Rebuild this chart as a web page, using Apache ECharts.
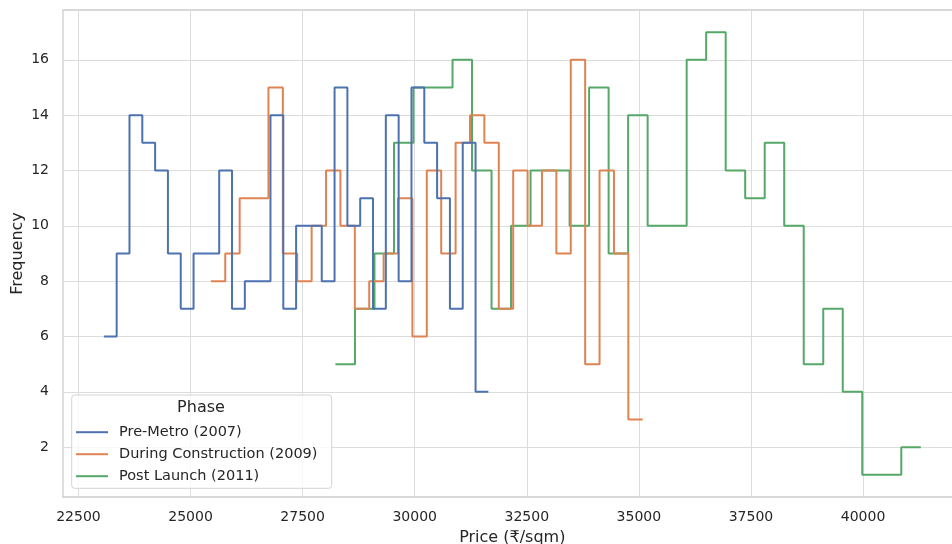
<!DOCTYPE html>
<html>
<head>
<meta charset="utf-8">
<script src="https://cdn.jsdelivr.net/npm/echarts@6/dist/echarts.min.js"></script>
<style>
  html, body { margin: 0; padding: 0; background: #fff; }
  #chart { width: 952px; height: 544px; }
</style>
</head>
<body>
<div id="chart"></div>
<script>
// price bins per phase: first bin edge, bin width (₹/sqm), counts per bin
const phaseNames = ['Pre-Metro (2007)', 'During Construction (2009)', 'Post Launch (2011)'];
const phaseColors = ['#4c72b0', '#dd8452', '#55a868'];

const preMetroStart = 23066;
const preMetroWidth = 285.9;
const preMetroCounts = [6, 9, 14, 13, 12, 9, 7, 9, 9, 12, 7, 8, 8, 14, 7, 10, 10, 8, 15, 10, 11, 7, 14, 8, 15, 13, 11, 7, 13, 4];

const constructionStart = 25453;
const constructionWidth = 321.1;
const constructionCounts = [8, 9, 11, 11, 15, 9, 8, 10, 12, 10, 7, 8, 9, 11, 6, 12, 9, 13, 14, 13, 7, 12, 10, 12, 9, 16, 5, 12, 9, 3];

const postLaunchStart = 28232;
const postLaunchWidth = 435.2;
const postLaunchCounts = [5, 7, 9, 13, 15, 15, 16, 12, 7, 10, 12, 12, 10, 15, 9, 14, 10, 10, 16, 17, 12, 11, 13, 10, 5, 7, 4, 1, 1, 2];

const xTicks = [22500, 25000, 27500, 30000, 32500, 35000, 37500, 40000];
const yTicks = [2, 4, 6, 8, 10, 12, 14, 16];

const font = 'DejaVu Sans';
const textColor = '#262626';

// step outline: each bin's left edge with its count, plus the closing right edge
function stepPoints(start, width, counts) {
  let pts = counts.map((c, i) => [start + i * width, c]);
  pts.push([start + counts.length * width, counts[counts.length - 1]]);
  return pts;
}

function makeSeries(i, start, width, counts) {
  return {
    name: phaseNames[i],
    type: 'line',
    step: 'end',
    symbol: 'none',
    z: 4 - i,
    data: stepPoints(start, width, counts),
    lineStyle: { color: phaseColors[i], width: 2 },
    itemStyle: { color: phaseColors[i] }
  };
}

let chart = echarts.init(document.getElementById('chart'));
let option = {
  animation: false,
  backgroundColor: '#fff',
  textStyle: { fontFamily: font },
  grid: {
    left: 63, top: 10, width: 898.6, height: 487,
    outerBoundsMode: 'none',
    show: true, borderColor: '#cccccc', borderWidth: 1.3
  },
  xAxis: {
    type: 'value',
    min: 22155, max: 42198,
    name: 'Price (₹/sqm)',
    nameLocation: 'middle',
    nameGap: 33,
    nameMoveOverlap: false,
    nameTextStyle: { fontSize: 16, color: textColor, fontFamily: font },
    axisLine: { show: false },
    axisTick: { show: false, customValues: xTicks },
    axisLabel: {
      customValues: xTicks, fontSize: 14, color: textColor, margin: 13, fontFamily: font,
      formatter: v => String(v)
    },
    splitLine: { show: true, lineStyle: { color: '#dcdcdc', width: 1 } }
  },
  yAxis: {
    type: 'value',
    min: 0.2, max: 17.8,
    name: 'Frequency',
    nameLocation: 'middle',
    nameGap: 37,
    nameMoveOverlap: false,
    nameTextStyle: { fontSize: 16, color: textColor, fontFamily: font },
    axisLine: { show: false },
    axisTick: { show: false, customValues: yTicks },
    axisLabel: { customValues: yTicks, fontSize: 14, color: textColor, margin: 14, fontFamily: font },
    splitLine: { show: true, lineStyle: { color: '#dcdcdc', width: 1 } }
  },
  legend: {
    data: phaseNames,
    orient: 'vertical',
    left: 76, top: 424.7,
    padding: 0,
    icon: 'rect',
    itemWidth: 32, itemHeight: 2, itemGap: 7,
    z: 12,
    textStyle: { fontSize: 14.5, color: textColor, lineHeight: 14, padding: [0, 0, 0, 6], fontFamily: font }
  },
  graphic: [
    {
      type: 'rect', z: 10,
      shape: { x: 71.7, y: 395, width: 260, height: 93.3, r: 3 },
      style: { fill: 'rgba(255,255,255,0.8)', stroke: '#d4d4d4', lineWidth: 1 }
    },
    {
      type: 'text', z: 11, x: 201, y: 408,
      style: { text: 'Phase', fontSize: 16, fill: textColor, align: 'center', verticalAlign: 'middle', fontFamily: font }
    }
  ],
  series: [
    makeSeries(0, preMetroStart, preMetroWidth, preMetroCounts),
    makeSeries(1, constructionStart, constructionWidth, constructionCounts),
    makeSeries(2, postLaunchStart, postLaunchWidth, postLaunchCounts)
  ]
};
option && chart.setOption(option);
</script>
</body>
</html>
